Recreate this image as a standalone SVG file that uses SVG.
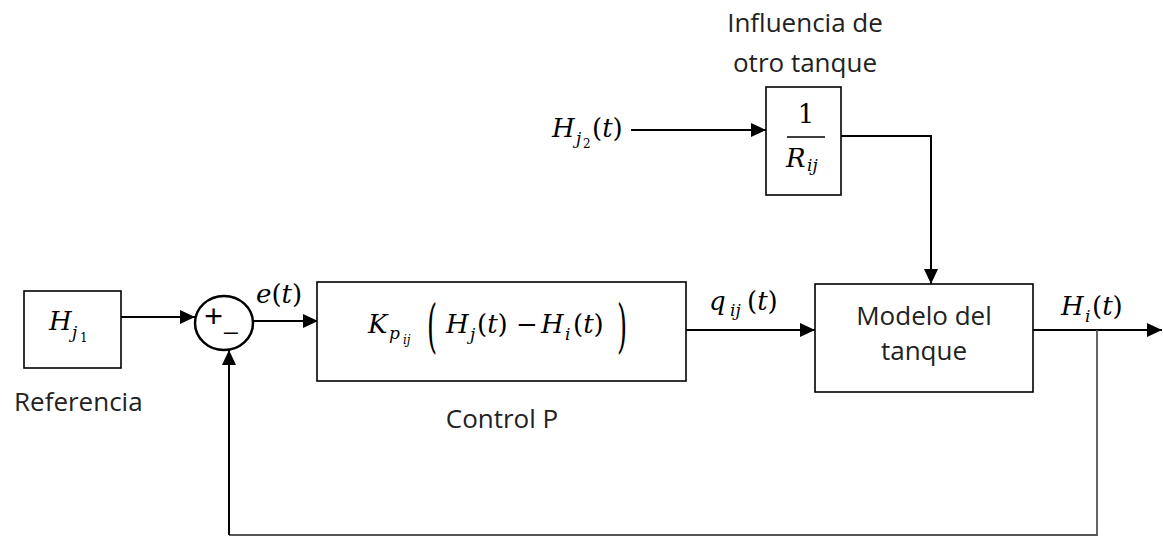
<svg xmlns="http://www.w3.org/2000/svg" width="1163" height="537" viewBox="0 0 1163 537">
<style>
.box{fill:#fff;stroke:#000;stroke-width:1.6}
.ln{fill:none;stroke:#000;stroke-width:2}
.fb{fill:none;stroke:#555;stroke-width:1.8}
.lbl{font-family:"Open Sans","Liberation Sans",sans-serif;font-size:26px;fill:#222}
.m{font-family:"DejaVu Serif","Liberation Serif",serif;font-style:italic;font-size:26px;fill:#000}
.s{font-family:"DejaVu Serif","Liberation Serif",serif;font-style:italic;font-size:17px;fill:#000}
.ss{font-family:"DejaVu Serif","Liberation Serif",serif;font-style:italic;font-size:12px;fill:#000}
.u{font-style:normal}
</style>
<defs>
<marker id="arr" markerUnits="userSpaceOnUse" markerWidth="16" markerHeight="14" refX="15" refY="7" orient="auto">
<path d="M0,0 L15,7 L0,14 z" fill="#000"/>
</marker>
</defs>
<rect width="1163" height="537" fill="#fff"/>

<g id="connectors">
<line class="ln" x1="121" y1="317" x2="195" y2="317" marker-end="url(#arr)"/>
<line class="ln" x1="253" y1="321" x2="318" y2="321" marker-end="url(#arr)"/>
<line class="ln" x1="686" y1="330" x2="815" y2="330" marker-end="url(#arr)"/>
<line class="ln" x1="1033" y1="330" x2="1162" y2="330" marker-end="url(#arr)"/>
<line class="ln" x1="631" y1="130" x2="766" y2="130" marker-end="url(#arr)"/>
<polyline class="ln" points="841,136 931,136 931,284" marker-end="url(#arr)"/>
<polyline class="fb" points="1097,330 1097,535 229,535"/>
<line class="ln" x1="229" y1="535" x2="229" y2="350" marker-end="url(#arr)"/>
</g>

<g id="ref">
<rect class="box" x="24" y="291" width="97" height="77"/>
<text class="m" x="49" y="330">H</text>
<text class="s" x="72" y="338">j</text>
<text class="ss u" x="80" y="342">1</text>
<text class="lbl" x="14" y="411">Referencia</text>
</g>

<g id="sum">
<ellipse cx="224" cy="323" rx="29" ry="27" fill="#fff" stroke="#000" stroke-width="2.5"/>
<text x="213.5" y="327" text-anchor="middle" font-family="Liberation Sans, sans-serif" font-size="32">+</text>
<text x="231" y="329" text-anchor="middle" font-family="Liberation Sans, sans-serif" font-size="24">_</text>
<text class="m" x="256" y="303">e<tspan class="u">(</tspan>t<tspan class="u">)</tspan></text>
</g>

<g id="control">
<rect class="box" x="317" y="282" width="369" height="99"/>
<text class="m" x="368" y="333">K</text>
<text class="s" x="389" y="339">p</text>
<text class="ss" x="403" y="344">ij</text>
<text class="m u" transform="translate(427,346) scale(1,2.2)">(</text>
<text class="m" x="446" y="333">H</text>
<text class="s" x="470" y="340">j</text>
<text class="m" x="477" y="333"><tspan class="u">(</tspan>t<tspan class="u">)</tspan></text>
<text class="m u" x="527" y="333" text-anchor="middle">−</text>
<text class="m" x="541" y="333">H</text>
<text class="s" x="565" y="340">i</text>
<text class="m" x="573" y="333"><tspan class="u">(</tspan>t<tspan class="u">)</tspan></text>
<text class="m u" transform="translate(617,346) scale(1,2.2)">)</text>
<text class="lbl" x="502" y="428" text-anchor="middle">Control P</text>
</g>

<g id="q">
<text class="m" x="709" y="310">q</text>
<text class="s" x="730" y="316">ij</text>
<text class="m" x="747" y="310"><tspan class="u">(</tspan>t<tspan class="u">)</tspan></text>
</g>

<g id="hj2">
<text class="m" x="552" y="137">H</text>
<text class="s" x="576" y="144">j</text>
<text class="ss u" x="583" y="148">2</text>
<text class="m" x="592" y="137"><tspan class="u">(</tspan>t<tspan class="u">)</tspan></text>
</g>

<g id="influence">
<rect class="box" x="766" y="87" width="75" height="108"/>
<text class="m u" x="806" y="123" text-anchor="middle">1</text>
<line x1="787" y1="137" x2="825" y2="137" stroke="#000" stroke-width="1.6"/>
<text class="m" x="786" y="167">R</text>
<text class="s" x="807" y="171">ij</text>
<text class="lbl" x="805" y="32" text-anchor="middle">Influencia de</text>
<text class="lbl" x="805" y="72" text-anchor="middle">otro tanque</text>
</g>

<g id="model">
<rect class="box" x="815" y="284" width="218" height="108"/>
<text class="lbl" x="924" y="325" text-anchor="middle">Modelo del</text>
<text class="lbl" x="924" y="360" text-anchor="middle">tanque</text>
</g>

<g id="out">
<text class="m" x="1061" y="315">H</text>
<text class="s" x="1085" y="322">i</text>
<text class="m" x="1092" y="315"><tspan class="u">(</tspan>t<tspan class="u">)</tspan></text>
</g>
</svg>
